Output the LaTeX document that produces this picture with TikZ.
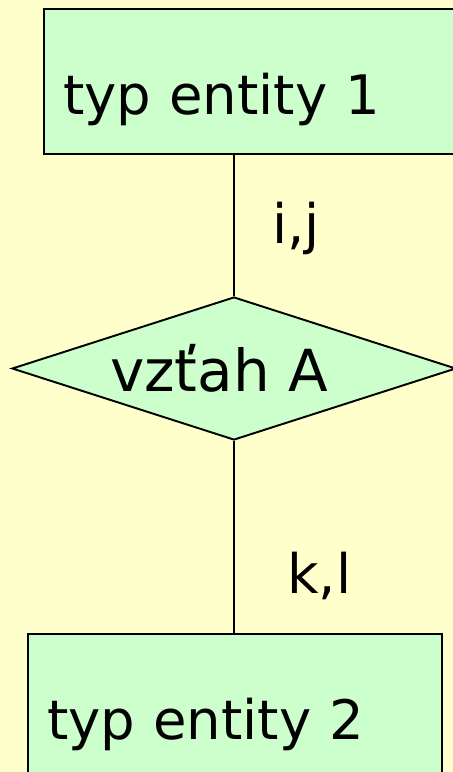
\documentclass[tikz,border=0pt]{standalone}
\usepackage{fontspec}
\setmainfont{DejaVu Sans}
\usetikzlibrary{shapes.geometric,positioning}
\definecolor{bgc}{HTML}{FFFFCC}
\definecolor{entc}{HTML}{CCFFCC}

\tikzset{
  entity/.style={draw, fill=entc, line width=1.3pt, rectangle, align=left,
    inner xsep=19*0.02cm, inner ysep=0pt, text height=105*0.02cm, text depth=40*0.02cm,
    font=\fontsize{31}{36}\selectfont},
  relship/.style={draw, fill=entc, line width=1.1pt, diamond, aspect=3.1, inner sep=0pt,
    minimum width=444*0.02cm, minimum height=143*0.02cm,
    font=\fontsize{33}{38}\selectfont},
  lbl/.style={font=\fontsize{31}{36}\selectfont, inner sep=0pt},
  conn/.style={line width=1.1pt}
}

\begin{document}
\begin{tikzpicture}[x=0.02cm, y=-0.02cm]
  \useasboundingbox (0,0) rectangle (453,772);
  \clip (0,0) rectangle (453,772);
  \fill[bgc] (0,0) rectangle (453,772);
  % entity types and relationship
  \node[entity, text width=399*0.02cm, anchor=north west] (ent1) at (43,8) {typ entity 1};
  \node[relship] (rel) at (234,368.5) {vzťah A\kern0.6cm};
  \node[entity, text width=376*0.02cm, anchor=north west] (ent2) at (27,633) {typ entity 2};
  % connectors
  \draw[conn] (rel.north |- ent1.south) -- (rel.north);
  \draw[conn] (rel.south) -- (rel.south |- ent2.north);
  % cardinalities
  \node[lbl, anchor=base west] (ij) at (272,243) {i,j};
  \node[lbl, anchor=base west] (kl) at (287,593) {k,l};
\end{tikzpicture}
\end{document}
